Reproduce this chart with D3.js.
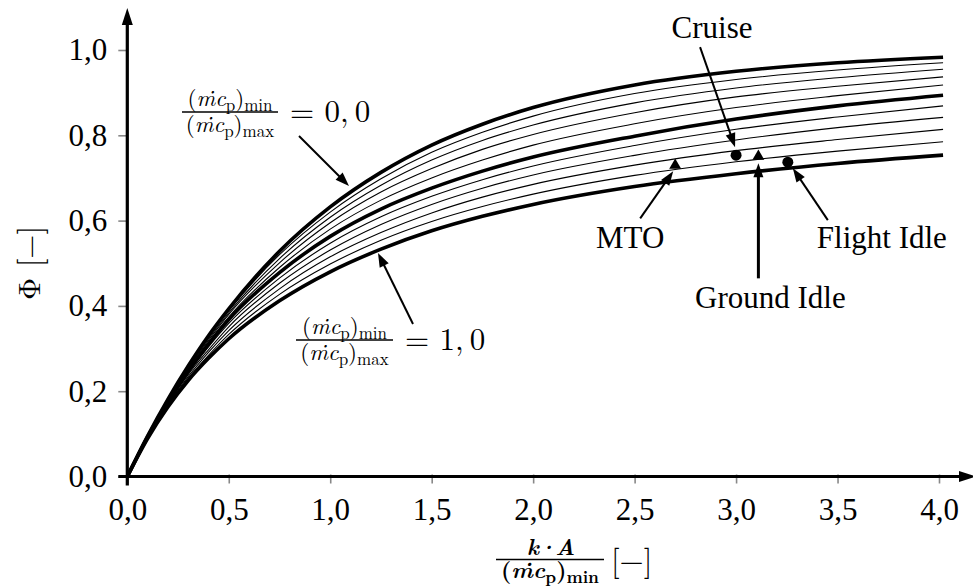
<!DOCTYPE html>
<html>
<head>
<meta charset="utf-8">
<script src="https://cdn.jsdelivr.net/npm/d3@7"></script>
<style>
  body { margin: 0; background: #fff; }
  svg { display: block; }
</style>
</head>
<body>
<svg id="chart" width="973" height="588"></svg>
<script>
// Heat exchanger effectiveness Φ over k·A/(ṁc_p)_min for capacity ratios 0,0 … 1,0
const ntu = [0, 0.1, 0.2, 0.3, 0.4, 0.5, 0.75, 1.0, 1.25, 1.5, 1.75, 2.0, 2.5, 3.0, 3.5, 4.02];

const phi00 = [0, 0.095, 0.181, 0.259, 0.330, 0.393, 0.528, 0.632, 0.713, 0.777, 0.826, 0.865, 0.918, 0.950, 0.970, 0.983];
const phi01 = [0, 0.095, 0.180, 0.257, 0.327, 0.389, 0.520, 0.620, 0.698, 0.760, 0.807, 0.845, 0.898, 0.931, 0.953, 0.970];
const phi02 = [0, 0.094, 0.179, 0.255, 0.323, 0.384, 0.511, 0.608, 0.683, 0.742, 0.788, 0.824, 0.876, 0.911, 0.935, 0.955];
const phi03 = [0, 0.094, 0.178, 0.253, 0.319, 0.380, 0.501, 0.595, 0.667, 0.722, 0.767, 0.802, 0.853, 0.890, 0.915, 0.937];
const phi04 = [0, 0.093, 0.176, 0.250, 0.315, 0.374, 0.490, 0.580, 0.648, 0.700, 0.742, 0.777, 0.827, 0.865, 0.893, 0.918];
const phi05 = [0, 0.093, 0.175, 0.247, 0.310, 0.368, 0.478, 0.563, 0.627, 0.676, 0.716, 0.749, 0.798, 0.838, 0.869, 0.894];
const phi06 = [0, 0.092, 0.173, 0.243, 0.304, 0.359, 0.465, 0.547, 0.609, 0.657, 0.696, 0.728, 0.776, 0.814, 0.843, 0.869];
const phi07 = [0, 0.092, 0.170, 0.239, 0.297, 0.351, 0.453, 0.531, 0.591, 0.638, 0.676, 0.707, 0.753, 0.789, 0.818, 0.842];
const phi08 = [0, 0.091, 0.168, 0.234, 0.291, 0.342, 0.440, 0.515, 0.572, 0.618, 0.655, 0.685, 0.730, 0.764, 0.790, 0.814];
const phi09 = [0, 0.090, 0.166, 0.230, 0.284, 0.333, 0.427, 0.498, 0.554, 0.598, 0.633, 0.662, 0.706, 0.738, 0.763, 0.785];
const phi10 = [0, 0.089, 0.163, 0.225, 0.277, 0.323, 0.412, 0.480, 0.533, 0.576, 0.610, 0.638, 0.680, 0.710, 0.734, 0.7535];

const capacityRatios = [0.0, 0.1, 0.2, 0.3, 0.4, 0.5, 0.6, 0.7, 0.8, 0.9, 1.0];
const phiSeries = [phi00, phi01, phi02, phi03, phi04, phi05, phi06, phi07, phi08, phi09, phi10];

// Operating points
const pointNames = ["MTO", "Cruise", "Ground Idle", "Flight Idle"];
const pointNTU   = [2.70, 3.00, 3.11, 3.255];
const pointPhi   = [0.732, 0.7535, 0.753, 0.737];
const pointShape = ["triangle", "circle", "triangle", "circle"];

const xTicks = [0, 0.5, 1.0, 1.5, 2.0, 2.5, 3.0, 3.5, 4.0];
const yTicks = [0, 0.2, 0.4, 0.6, 0.8, 1.0];

const TIMES = '"Liberation Serif", "Times New Roman", Tinos, serif';
const LM = '"Latin Modern Roman", "Liberation Serif", serif';
const svg = d3.select("#chart");
const x = d3.scaleLinear().domain([0, 4]).range([127.3, 939]);
const y = d3.scaleLinear().domain([0, 1]).range([476.5, 50]);
const fmt = v => d3.format(".1f")(v).replace(".", ",");

function arrow(g, x1, y1, x2, y2, w, headLen, headW) {
  const dx = x2 - x1, dy = y2 - y1, L = Math.hypot(dx, dy);
  const ux = dx / L, uy = dy / L;
  const bx = x2 - ux * headLen, by = y2 - uy * headLen;
  g.append("line").attr("x1", x1).attr("y1", y1)
    .attr("x2", bx + ux * 2).attr("y2", by + uy * 2)
    .attr("stroke", "#000").attr("stroke-width", w);
  g.append("path")
    .attr("d", `M${x2},${y2}L${bx - uy * headW / 2},${by + ux * headW / 2}L${bx + uy * headW / 2},${by - ux * headW / 2}Z`)
    .attr("fill", "#000");
}

// Axis ticks and labels
const gx = svg.append("g").attr("transform", `translate(0,${y(0)})`)
  .call(d3.axisBottom(x).tickValues(xTicks).tickFormat(fmt).tickSize(7).tickPadding(14));
const gy = svg.append("g").attr("transform", `translate(${x(0)},0)`)
  .call(d3.axisLeft(y).tickValues(yTicks).tickFormat(fmt).tickSize(9).tickPadding(11));
[gx, gy].forEach(g => {
  g.attr("font-family", null).attr("font-size", null);
  g.select(".domain").remove();
  g.selectAll(".tick line").attr("stroke", "#888").attr("stroke-width", 1.6);
  g.selectAll(".tick text").attr("fill", "#000")
    .style("font-family", TIMES).style("font-size", "31px");
});
gx.selectAll(".tick line").attr("y1", -2);

// Curves: thin ones first, the three bold ratios (0,0 / 0,5 / 1,0) on top
const line = d3.line().x(d => x(d[0])).y(d => y(d[1])).curve(d3.curveMonotoneX);
const curves = capacityRatios.map((r, i) => ({ r, pts: ntu.map((n, j) => [n, phiSeries[i][j]]) }));
const isThick = r => Math.abs(r) < 1e-9 || Math.abs(r - 0.5) < 1e-9 || Math.abs(r - 1) < 1e-9;
svg.append("g").selectAll("path")
  .data(curves.filter(c => !isThick(c.r)).concat(curves.filter(c => isThick(c.r))))
  .join("path")
  .attr("d", c => line(c.pts))
  .attr("fill", "none")
  .attr("stroke", "#000")
  .attr("stroke-width", c => isThick(c.r) ? 3.6 : 1.1)
  .attr("stroke-linejoin", "round");

// Axis lines with arrowheads
const axes = svg.append("g");
axes.append("line").attr("x1", x(0)).attr("y1", y(0) + 9).attr("x2", x(0)).attr("y2", 22)
  .attr("stroke", "#000").attr("stroke-width", 3.2);
axes.append("path").attr("d", `M${x(0)},8L${x(0) - 5.5},25L${x(0) + 5.5},25Z`).attr("fill", "#000");
axes.append("line").attr("x1", x(0) - 9).attr("y1", y(0)).attr("x2", 962).attr("y2", y(0))
  .attr("stroke", "#000").attr("stroke-width", 3.2);
axes.append("path").attr("d", `M976,${y(0)}L959,${y(0) - 5.5}L959,${y(0) + 5.5}Z`).attr("fill", "#000");

// Operating point markers
const sym = d3.symbol();
svg.append("g").selectAll("path")
  .data(pointNames.map((n, i) => ({ n, v: pointNTU[i], p: pointPhi[i], s: pointShape[i] })))
  .join("path")
  .attr("transform", d => `translate(${x(d.v)},${y(d.p) + (d.s === "triangle" ? 1 : 0)})`)
  .attr("d", d => d.s === "circle" ? sym.type(d3.symbolCircle).size(95)() : sym.type(d3.symbolTriangle).size(62)())
  .attr("fill", "#000");

// Annotations for operating points (offsets in px from the marker)
const notes = [
  { i: 0, tip: [-2, 7],  tail: [-35, 54],  text: [-45, 84],  w: 2 },
  { i: 1, tip: [-1, -8], tail: [-36, -108], text: [-24, -117], w: 2 },
  { i: 2, tip: [0, 8],   tail: [0, 123],   text: [12, 153],  w: 3 },
  { i: 3, tip: [5, 6],   tail: [40, 58],   text: [94, 86],   w: 2 }
];
const ann = svg.append("g");
notes.forEach(nt => {
  const px = x(pointNTU[nt.i]), py = y(pointPhi[nt.i]);
  arrow(ann, px + nt.tail[0], py + nt.tail[1], px + nt.tip[0], py + nt.tip[1], nt.w, 14, 10);
  ann.append("text").attr("x", px + nt.text[0]).attr("y", py + nt.text[1])
    .attr("text-anchor", "middle")
    .style("font-family", TIMES).style("font-size", "31px")
    .text(pointNames[nt.i]);
});

// (ṁc_p)_sub with subscripts, set in Latin Modern
function mdot(t, sub, size, subSize, bold) {
  const sh = size * 0.2;
  const wt = bold ? "bold" : "normal";
  t.style("font-family", LM).style("font-weight", wt);
  t.append("tspan").style("font-size", size + "px").text("(");
  t.append("tspan").style("font-size", size + "px").style("font-style", "italic").text("ṁc");
  t.append("tspan").style("font-size", subSize + "px").attr("dy", sh).text("p");
  t.append("tspan").style("font-size", size + "px").attr("dy", -sh).text(")");
  t.append("tspan").style("font-size", subSize + "px").attr("dy", sh).text(sub);
}
function ratioLabel(cx, barY, barW, value) {
  const g = svg.append("g");
  mdot(g.append("text").attr("x", cx).attr("y", barY - 6).attr("text-anchor", "middle"), "min", 23, 17, false);
  mdot(g.append("text").attr("x", cx).attr("y", barY + 20).attr("text-anchor", "middle"), "max", 23, 17, false);
  g.append("line").attr("x1", cx - barW / 2).attr("x2", cx + barW / 2).attr("y1", barY).attr("y2", barY)
    .attr("stroke", "#000").attr("stroke-width", 1.6);
  g.append("text").attr("x", cx + barW / 2 + 12).attr("y", barY + 10)
    .style("font-family", LM).style("font-size", "31px")
    .text("= " + value);
  return g;
}
ratioLabel(230, 112, 96, fmt(capacityRatios[0]).replace(",", ",\u2009"));
ratioLabel(344.5, 340, 97, fmt(capacityRatios[10]).replace(",", ",\u2009"));
arrow(ann, 299, 136, 349, 186, 2, 14, 10);
arrow(ann, 413, 324, 378, 253, 2, 14, 10);

// Axis titles
svg.append("text").attr("transform", "translate(40,263) rotate(-90)")
  .attr("text-anchor", "middle")
  .style("font-family", LM).style("font-size", "31px")
  .text("Φ [−]");
const xt = svg.append("g");
xt.append("text").attr("x", 550).attr("y", 555).attr("text-anchor", "middle")
  .style("font-family", LM).style("font-size", "23px").style("letter-spacing", "-2px")
  .style("font-weight", "bold").style("font-style", "italic")
  .text("k·A");
xt.append("line").attr("x1", 496).attr("x2", 604).attr("y1", 559.5).attr("y2", 559.5)
  .attr("stroke", "#000").attr("stroke-width", 1.6);
mdot(xt.append("text").attr("x", 550).attr("y", 578).attr("text-anchor", "middle"), "min", 23, 17, true);
xt.append("text").attr("x", 611).attr("y", 571)
  .style("font-family", LM).style("font-size", "31px")
  .text("[−]");
</script>
</body>
</html>
